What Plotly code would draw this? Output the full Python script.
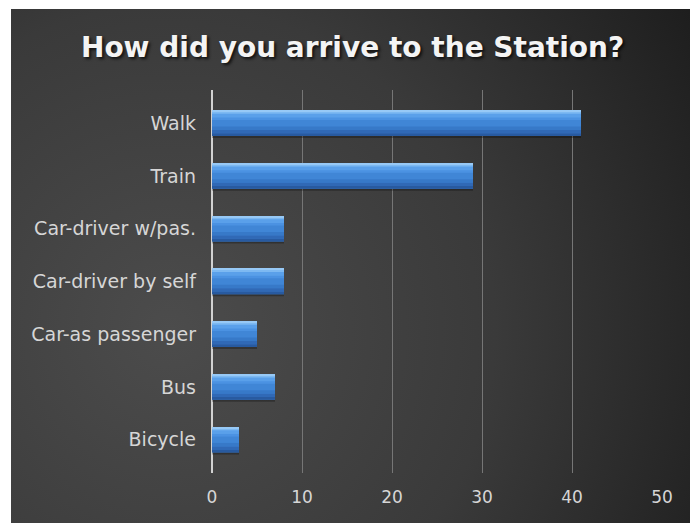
import plotly.graph_objects as go

# Survey answers: how respondents got to the station
modes = ["Walk", "Train", "Car-driver w/pas.", "Car-driver by self",
         "Car-as passenger", "Bus", "Bicycle"]
counts = [41, 29, 8, 8, 5, 7, 3]
x_ticks = [0, 10, 20, 30, 40, 50]

title_text = "How did you arrive to the Station?"

W, H = 690, 523
PANEL_L, PANEL_T = 11, 9
pw, ph = W - PANEL_L, H - PANEL_T

fig = go.Figure()

# Dark radial backdrop filling the whole panel (subplot x/y, pixel units)
cx, cy, R = 170 - PANEL_L, H - 330, 650
fig.add_trace(go.Scatter(
    x=[cx - R, cx + R, cx + R, cx - R, cx - R],
    y=[cy - R, cy - R, cy + R, cy + R, cy - R],
    mode="lines", line=dict(width=0), fill="toself",
    fillgradient=dict(type="radial",
                      colorscale=[[0, "#4c4c4c"], [0.5, "#3a3a3a"], [1, "#1a1a1a"]]),
    hoverinfo="skip", showlegend=False, xaxis="x", yaxis="y",
))

# Bars built from stacked horizontal bands (offset, thickness, colour)
# so that they shade from a light top edge to a darker base
bands = [
    (-0.28, 0.10, "rgba(0,0,0,0.28)"),
    (-0.24, 0.48, "#4086d6"),
    (0.06, 0.12, "#4b92e2"),
    (0.11, 0.08, "#5aa0ea"),
    (0.18, 0.06, "#7db9f2"),
    (0.22, 0.02, "#97c9f6"),
    (-0.13, 0.07, "#3779c8"),
    (-0.19, 0.06, "#3069b6"),
    (-0.24, 0.05, "#285aa0"),
]
for off, wid, col in bands:
    fig.add_trace(go.Bar(
        x=counts, y=modes, orientation="h", offset=off, width=wid,
        marker=dict(color=col, line=dict(width=0)),
        hoverinfo="skip", showlegend=False, xaxis="x2", yaxis="y2",
    ))

fig.update_layout(
    width=W, height=H,
    margin=dict(l=PANEL_L, r=0, t=PANEL_T, b=0, autoexpand=False),
    paper_bgcolor="white", plot_bgcolor="rgba(0,0,0,0)",
    barmode="overlay",
    showlegend=False,
    title=dict(
        text=title_text, xref="container", yref="container",
        x=0.511, y=1 - 47 / H, xanchor="center", yanchor="middle",
        font=dict(family="DejaVu Sans", size=28, color="#f4f4f4", weight="bold",
                  shadow="2px 2px 3px rgba(0,0,0,0.7)"),
    ),
    xaxis=dict(domain=[0, 1], range=[0, pw], visible=False, fixedrange=True),
    yaxis=dict(domain=[0, 1], range=[0, ph], visible=False, fixedrange=True),
    xaxis2=dict(
        anchor="y2",
        domain=[(212 - PANEL_L) / pw, (662 - PANEL_L) / pw],
        range=[0, 50], tickvals=x_ticks,
        showgrid=True, gridcolor="#767676", gridwidth=1,
        zeroline=True, zerolinecolor="#d2d2d2", zerolinewidth=1.5,
        showline=False, ticks="",
        ticklabelstandoff=12,
        tickfont=dict(family="DejaVu Sans", size=17, color="#d6d6d6"),
    ),
    yaxis2=dict(
        anchor="x2",
        domain=[(H - 473) / ph, (H - 90) / ph],
        type="category", categoryorder="array", categoryarray=modes[::-1],
        range=[-0.63, 6.63],
        showgrid=False, zeroline=False, showline=False, ticks="",
        ticklabelstandoff=15,
        tickfont=dict(family="DejaVu Sans", size=19, color="#d6d6d6"),
    ),
)

fig.write_html("out.html", config={"displayModeBar": False})
